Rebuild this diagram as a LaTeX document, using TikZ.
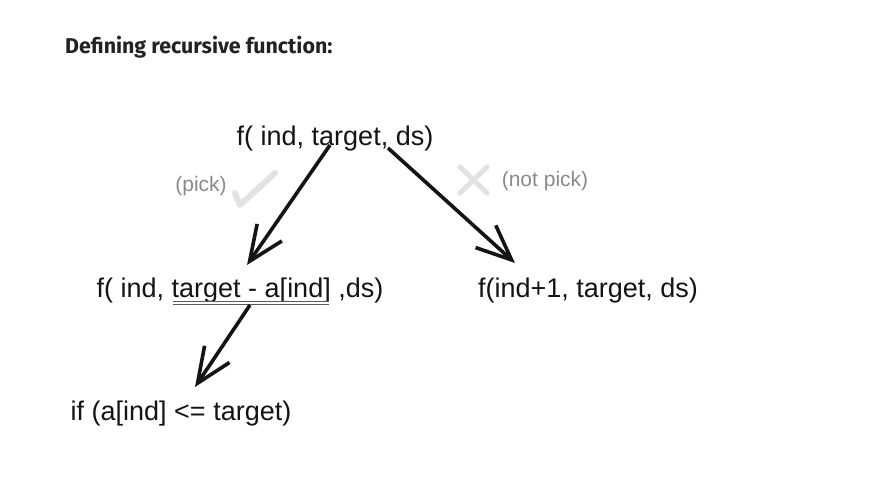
\documentclass[tikz,border=0pt]{standalone}
\usepackage{fontspec}
\setmainfont{Liberation Sans}
\newfontfamily\titlefont{Fira Sans}
\usepackage{xcolor}
\usetikzlibrary{positioning, arrows.meta}

\definecolor{inkcol}{HTML}{141414}
\definecolor{notecol}{HTML}{8A8A8A}
\definecolor{markcol}{HTML}{E2E2E2}
\definecolor{titlecol}{HTML}{222222}

\tikzset{
  call/.style={inner sep=0pt, text height=19pt, text depth=6pt, text=inkcol,
    font=\fontsize{27}{31}\selectfont},
  note/.style={inner sep=0pt, text=notecol, font=\fontsize{21}{25}\selectfont},
  branch/.style={-{Straight Barb[length=35pt,width=30pt,line width=3.6pt]},
    line width=3.6pt, draw=inkcol},
  tick/.style={line width=6pt, draw=markcol, line cap=round, line join=round},
  uline/.style={draw=gray!70!black, line width=1pt, double=white, double distance=1.4pt}
}

\begin{document}
\begin{tikzpicture}[x=1pt,y=-1pt,node distance=3cm,on grid]
  \useasboundingbox[fill=white] (0,0) rectangle (896,477);

  \node[anchor=base west, text=titlecol, inner sep=0pt,
    font=\titlefont\bfseries\fontsize{21.4}{25}\selectfont] (title) at (65,53) {Defining recursive function:};

  \node[call] (root) at (335,139) {f( ind, target, ds)};
  \node[call] (pick) [below left=152pt and 95pt of root] {f( ind, target - a[ind] ,ds)};
  \node[call] (skip) [below right=152pt and 253pt of root] {f(ind+1, target, ds)};
  \node[call] (cond) [below left=123pt and 59pt of pick] {if (a[ind] <= target)};

  \node[note] (picklbl) at (201,186) {(pick)};
  \node[note] (skiplbl) at (545,181) {(not pick)};

  % tick and cross marks
  \draw[tick] (235,193) -- (240,205) -- (275,173);
  \draw[tick, line width=5pt] (460,167) -- (487,193);
  \draw[tick, line width=5pt] (487,167) -- (460,193);

  \draw[uline] ([shift={(-67,12)}]pick.center) -- ([shift={(89,12)}]pick.center);

  \draw[branch] ([shift={(-5,6)}]root.center) -- ([shift={(7,-26)}]pick.center);
  \draw[branch] ([shift={(53,9)}]root.center) -- ([shift={(-73,-28)}]skip.center);
  \draw[branch] ([shift={(10,14)}]pick.center) -- ([shift={(14,-27)}]cond.center);

\end{tikzpicture}
\end{document}
